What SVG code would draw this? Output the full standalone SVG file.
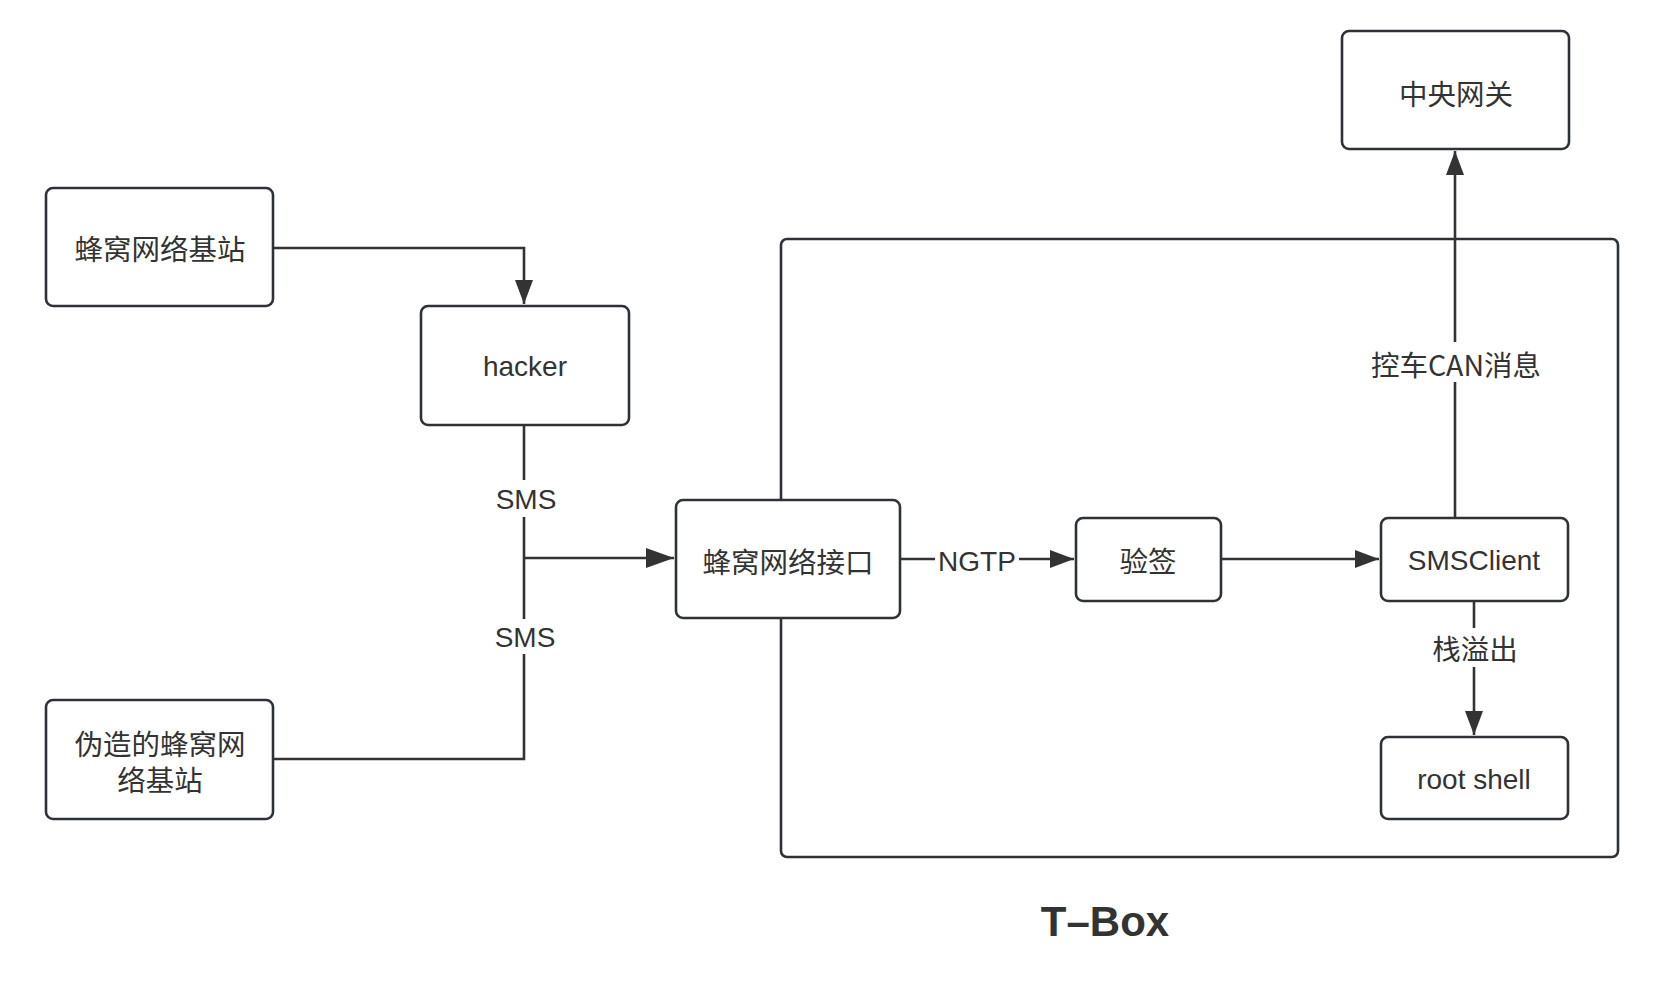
<svg xmlns="http://www.w3.org/2000/svg" width="1674" height="1002" viewBox="0 0 1674 1002">
<style>
.box{fill:#fff;stroke:#2e3236;stroke-width:2.6}
.t{font-family:"Noto Sans CJK SC","Liberation Sans",sans-serif;font-size:28.5px;fill:#333;text-anchor:middle;dominant-baseline:central}
.l{font-family:"Liberation Sans","Noto Sans CJK SC",sans-serif;font-size:28px;fill:#333;text-anchor:middle;dominant-baseline:central}
.c{fill:none;stroke:#333;stroke-width:2.6}
</style>
<defs>
<marker id="ah" viewBox="0 0 24 18" refX="24" refY="9" markerWidth="24" markerHeight="18" markerUnits="userSpaceOnUse" orient="auto">
<path d="M0,0 L24,9 L0,18 Z" fill="#333"/>
</marker>
<marker id="ahb" viewBox="0 0 28 20" refX="28" refY="10" markerWidth="28" markerHeight="20" markerUnits="userSpaceOnUse" orient="auto">
<path d="M0,0 L28,10 L0,20 Z" fill="#333"/>
</marker>
</defs>
<rect width="1674" height="1002" fill="#fff"/>
<g id="tbox">
<rect class="box" x="781" y="239" width="837" height="618" rx="6"/>
<text x="1105" y="921" font-family="Liberation Sans, sans-serif" font-size="42" font-weight="bold" fill="#333" text-anchor="middle" dominant-baseline="central">T–Box</text>
</g>
<g id="connectors">
<path class="c" d="M273,248 H524 V304" marker-end="url(#ah)"/>
<path class="c" d="M524,425 V480"/>
<path class="c" d="M524,517 V619"/>
<path class="c" d="M524,654 V759 H273"/>
<path class="c" d="M524,558 H674" stroke-width="3.2" marker-end="url(#ahb)"/>
<text class="l" x="526" y="499">SMS</text>
<text class="l" x="525" y="637">SMS</text>
<path class="c" d="M900,559 H935"/>
<path class="c" d="M1019,559 H1074" marker-end="url(#ah)"/>
<text class="l" x="977" y="561">NGTP</text>
<path class="c" d="M1221,559 H1379" marker-end="url(#ah)"/>
<path class="c" d="M1474,601 V628"/>
<path class="c" d="M1474,667 V735" marker-end="url(#ah)"/>
<text class="t" x="1475" y="647">栈溢出</text>
<path class="c" d="M1455,518 V382"/>
<path class="c" d="M1455,342 V151" marker-end="url(#ah)"/>
<text class="t" x="1456" y="363">控车CAN消息</text>
</g>
<g id="n-base">
<rect class="box" x="46" y="188" width="227" height="118" rx="7"/>
<text class="t" x="160" y="247">蜂窝网络基站</text>
</g>
<g id="n-hacker">
<rect class="box" x="421" y="306" width="208" height="119" rx="7"/>
<text class="l" x="525" y="366">hacker</text>
</g>
<g id="n-fake">
<rect class="box" x="46" y="700" width="227" height="119" rx="7"/>
<text class="t" x="160" y="742">伪造的蜂窝网</text>
<text class="t" x="160" y="778">络基站</text>
</g>
<g id="n-iface">
<rect class="box" x="676" y="500" width="224" height="118" rx="7"/>
<text class="t" x="788" y="560">蜂窝网络接口</text>
</g>
<g id="n-verify">
<rect class="box" x="1076" y="518" width="145" height="83" rx="7"/>
<text class="t" x="1148" y="559">验签</text>
</g>
<g id="n-smsclient">
<rect class="box" x="1381" y="518" width="187" height="83" rx="7"/>
<text class="l" x="1474" y="560">SMSClient</text>
</g>
<g id="n-root">
<rect class="box" x="1381" y="737" width="187" height="82" rx="7"/>
<text class="l" x="1474" y="779">root shell</text>
</g>
<g id="n-gateway">
<rect class="box" x="1342" y="31" width="227" height="118" rx="7"/>
<text class="t" x="1456" y="92">中央网关</text>
</g>
</svg>
